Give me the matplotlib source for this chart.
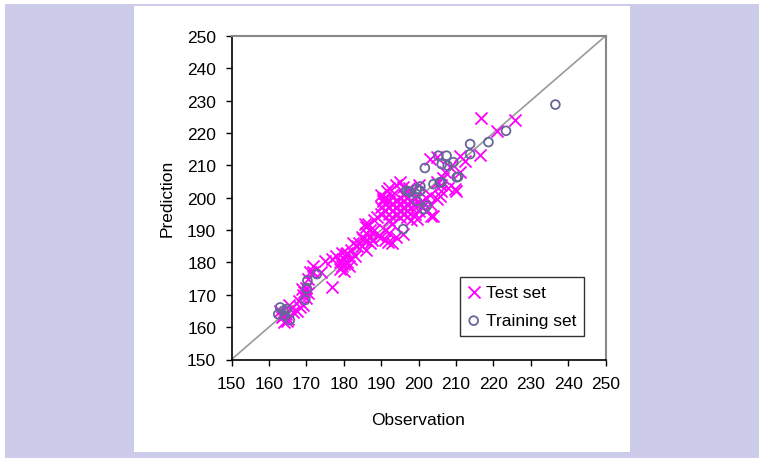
import matplotlib
matplotlib.use("Agg")
import matplotlib.pyplot as plt
from matplotlib.patches import Rectangle

plt.rcParams['font.family'] = ['Liberation Sans', 'DejaVu Sans']

# Test set (observation, prediction)
test_x = [163.5, 164, 164.5, 165, 166.5, 163, 165.5, 164.8, 163.8,
          167.5, 168.3, 169, 169, 169.5, 170, 170, 170.5, 171, 171.9, 171.7, 168.8, 170.5, 168,
          174, 175, 176.8, 177, 178,
          179, 179, 179.5, 180, 180, 180.5, 181, 181, 182, 182, 183, 179.5, 181.5, 180, 183.5, 182.5,
          184, 185, 185, 185.7, 186, 186, 186, 186.5, 187, 187, 187, 185.2, 186, 188, 188, 189, 187.5,
          190, 190, 190, 190, 191, 191, 191, 191, 191, 191.5, 192, 192, 192, 192, 192, 192,
          193, 193, 193, 193, 193, 194, 194, 194, 194, 194, 195, 195, 195, 195.9, 195, 190.5,
          191.8, 189.3, 190.6, 195.9, 195,
          196, 196, 196, 196, 197, 197, 197, 197, 198, 198, 198, 198, 199, 199, 199, 200, 200,
          200, 201, 201, 202, 202, 203, 203, 197.5, 199.5,
          203.3, 204, 204.9, 205, 205.7, 206, 206, 207, 203, 208, 209.8, 210, 208.4, 211, 212.4,
          204.9, 206.5,
          216.4, 216.7, 220.9, 225.8, 211.1]
test_y = [163, 161.5, 164, 162.5, 164.6, 165, 167, 162, 163.5,
          165, 166.1, 167, 170, 171, 169, 172, 175, 177, 179, 177, 171.8, 170.5, 168,
          177, 180.5, 172.3, 181, 182,
          178, 180, 179, 181, 177.5, 182.6, 180, 183, 181, 184, 182, 183, 179, 179.5, 185, 186,
          186, 185, 188, 191.9, 187, 189, 191, 192, 186, 188, 190, 187.2, 184, 190, 193, 194, 187,
          188, 195, 197, 201, 187, 190, 196, 198, 200, 202, 189, 193, 195, 197, 199, 203,
          186, 192, 196, 198, 201, 188, 195, 197, 199, 204, 194, 196, 198, 188.8, 204.8, 199,
          186.2, 188.3, 199.6, 203.3, 200,
          195, 197, 199, 201, 194, 196, 198, 200, 193, 197, 199, 202, 195, 198, 200, 196, 198,
          204, 197, 199, 200, 196, 198, 201, 203, 193.5,
          194.4, 194.5, 199.6, 205, 200.6, 202, 204, 208, 212, 203, 202.7, 202.2, 209.4, 208, 211.5,
          212.5, 206,
          213.3, 224.5, 220.7, 224, 213]

# Training set (observation, prediction)
train_x = [163, 163.9, 164.8, 165.6, 162.5, 164.3,
           169.7, 170.1, 170.3, 172.8, 170.1,
           195.9, 196.8, 197.3, 197.7, 199.5, 200.4, 199.5, 202.2, 200.5, 201.5,
           201.7, 204, 205.3, 205.7, 206.2, 206.2, 207.5, 207.8, 209.3, 210.2, 210.6,
           213.8, 213.8, 218.7, 223.4, 236.6]
train_y = [166.1, 165.1, 165.6, 162.2, 164, 163.5,
           168.4, 172, 174.4, 176.4, 171.8,
           190.3, 202.2, 201.9, 201.7, 202.7, 202.2, 199, 197.5, 203.5, 196.5,
           209.2, 204.2, 213, 204.8, 210.4, 204.8, 213, 209.9, 211, 206.3, 206.5,
           213.5, 216.6, 217.2, 220.7, 228.8]

ticks = [150, 160, 170, 180, 190, 200, 210, 220, 230, 240, 250]

W, H = 764, 464
FS = 12.5
fig = plt.figure(figsize=(W / 100, H / 100), dpi=100)
fig.patch.set_facecolor('white')
fig.patches.append(Rectangle((5 / W, 5 / H), 754 / W, 454 / H, transform=fig.transFigure,
                             facecolor='#CCCCEA', edgecolor='none', zorder=-20))
fig.patches.append(Rectangle((134 / W, 11 / H), 496 / W, 446 / H, transform=fig.transFigure,
                             facecolor='white', edgecolor='none', zorder=-10))

ax = fig.add_axes([231.5 / W, 103.5 / H, 374 / W, 323.5 / H])
ax.set_zorder(5)
ax.set_xlim(150, 250)
ax.set_ylim(150, 250)
ax.plot([150, 250], [150, 250], color='#999999', lw=1.2, zorder=1)
ax.scatter(test_x, test_y, marker='x', s=75, color='#FF00FF', linewidths=1.3,
           label='Test set', zorder=2)
ax.scatter(train_x, train_y, marker='o', s=40, facecolors='none', edgecolors='#666699',
           linewidths=1.3, label='Training set', zorder=3)

ax.set_xticks(ticks)
ax.set_yticks(ticks)
ax.tick_params(direction='out', length=4, width=1, labelsize=FS, colors='black')
ax.tick_params(axis='x', pad=8)
ax.tick_params(axis='y', pad=7)
for s in ['left', 'bottom']:
    ax.spines[s].set_color('black')
    ax.spines[s].set_linewidth(1.2)
for s in ['top', 'right']:
    ax.spines[s].set_color('#888888')
    ax.spines[s].set_linewidth(1.5)

ax.set_xlabel('Observation', fontsize=FS, labelpad=15)
ax.set_ylabel('Prediction', fontsize=FS, labelpad=9)

leg = ax.legend(loc='lower right', bbox_to_anchor=(584 / W, (464 - 337) / H),
                bbox_transform=fig.transFigure, fontsize=FS, frameon=True, fancybox=False,
                handletextpad=0.35, handlelength=0.7, borderpad=0.45, labelspacing=0.75,
                borderaxespad=0)
leg.get_frame().set_edgecolor('black')
leg.get_frame().set_linewidth(1.0)

fig.savefig('out.png', dpi=100)
